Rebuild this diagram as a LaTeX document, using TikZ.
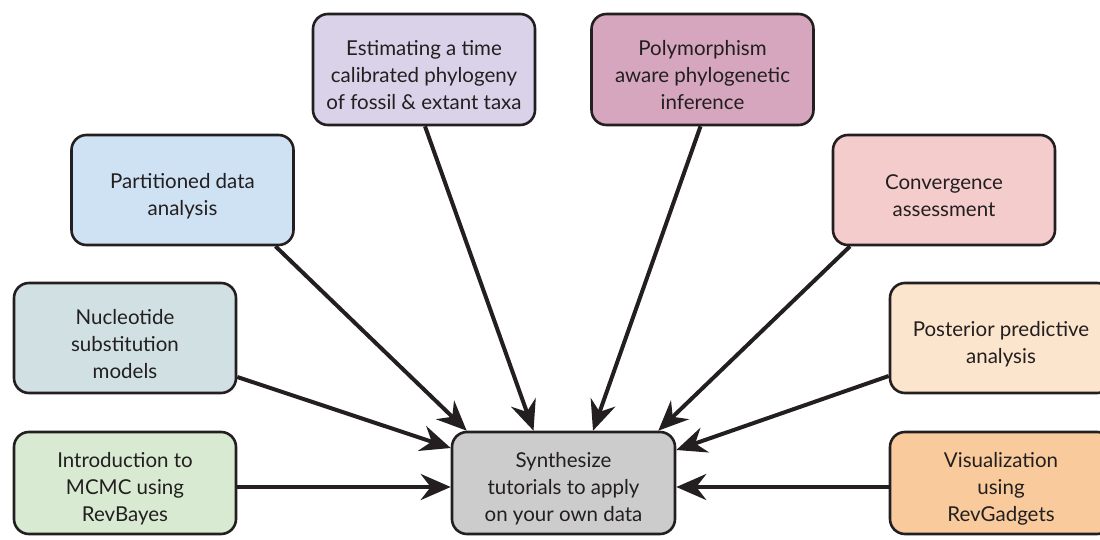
\documentclass[tikz,border=0pt]{standalone}
\usepackage{fontspec}
\setmainfont{Lato}
\usetikzlibrary{arrows.meta,calc}
\definecolor{ink}{HTML}{231F20}
\definecolor{cIntro}{HTML}{D9EAD3}
\definecolor{cNuc}{HTML}{D0E0E3}
\definecolor{cPart}{HTML}{CFE2F3}
\definecolor{cEst}{HTML}{D9D2E9}
\definecolor{cPoly}{HTML}{D5A6BD}
\definecolor{cConv}{HTML}{F4CCCC}
\definecolor{cPost}{HTML}{FCE5CD}
\definecolor{cVis}{HTML}{F9CB9C}
\definecolor{cHub}{HTML}{CCCCCC}
\tikzset{
  topic/.style={draw=ink, line width=2.6pt, rounded corners=15pt,
    inner sep=0pt, minimum width=222pt},
  caption/.style={align=center, text=ink, inner sep=0pt,
    font=\fontsize{20.5}{27}\selectfont},
  link/.style={draw=ink, line width=4pt,
    -{Stealth[length=30pt, width=26pt, inset=10pt]}}
}
\begin{document}
\begin{tikzpicture}[x=1pt, y=-1pt]
\useasboundingbox (0,0) rectangle (1100,540);
\clip (0,0) rectangle (1100,540);

% boxes
\node[topic, fill=cIntro, minimum height=102pt] (intro) at (125,483) {};
\node[topic, fill=cNuc, minimum height=110pt] (nuc) at (125,338) {};
\node[topic, fill=cPart, minimum height=110pt] (part) at (182.5,190) {};
\node[topic, fill=cEst, minimum height=111pt] (est) at (424,69.5) {};
\node[topic, fill=cPoly, minimum height=111pt] (poly) at (702.5,69.5) {};
\node[topic, fill=cConv, minimum height=110pt] (conv) at (944,190) {};
\node[topic, fill=cPost, minimum height=110pt] (post) at (1001,338) {};
\node[topic, fill=cVis, minimum height=102pt] (vis) at (1001,483) {};
\node[topic, fill=cHub, minimum height=102pt, minimum width=223pt] (hub) at (563.5,483) {};

% captions, set a little below each box centre
\node[caption] (intro-t) at ($(intro)+(0,6)$) {Introduction to\\MCMC using\\RevBayes};
\node[caption] (nuc-t) at ($(nuc)+(0,6)$) {Nucleotide\\substitution\\models};
\node[caption] (part-t) at ($(part)+(0,6)$) {Partitioned data\\analysis};
\node[caption] (est-t) at ($(est)+(0,6)$) {Estimating a time\\calibrated phylogeny\\of fossil \& extant taxa};
\node[caption] (poly-t) at ($(poly)+(0,6)$) {Polymorphism\\aware phylogenetic\\inference};
\node[caption] (conv-t) at ($(conv)+(0,6)$) {Convergence\\assessment};
\node[caption] (post-t) at ($(post)+(0,6)$) {Posterior predictive\\analysis};
\node[caption] (vis-t) at ($(vis)+(0,6)$) {Visualization\\using\\RevGadgets};
\node[caption] (hub-t) at ($(hub)+(0,6)$) {Synthesize\\tutorials to apply\\on your own data};

% connectors into the hub
\draw[link] ($(intro.east)+(0,4)$) -- ($(hub.west)+(0,4)$);
\draw[link] ($(nuc.east)+(0,39)$) -- ($(hub.west)+(0,-35)$);
\draw[link] ($(part.south)+(93,0)$) -- ($(hub.north west)+(16,0)$);
\draw[link] ($(est.south)+(1,0)$) -- ($(hub.north)+(-30,0)$);
\draw[link] ($(poly.south)+(-2,0)$) -- ($(hub.north)+(29.5,0)$);
\draw[link] ($(conv.south)+(-94,0)$) -- ($(hub.north east)+(-18,0)$);
\draw[link] ($(post.west)+(0,38)$) -- ($(hub.east)+(0,-33)$);
\draw[link] ($(vis.west)+(0,4)$) -- ($(hub.east)+(0,4)$);
\end{tikzpicture}
\end{document}
